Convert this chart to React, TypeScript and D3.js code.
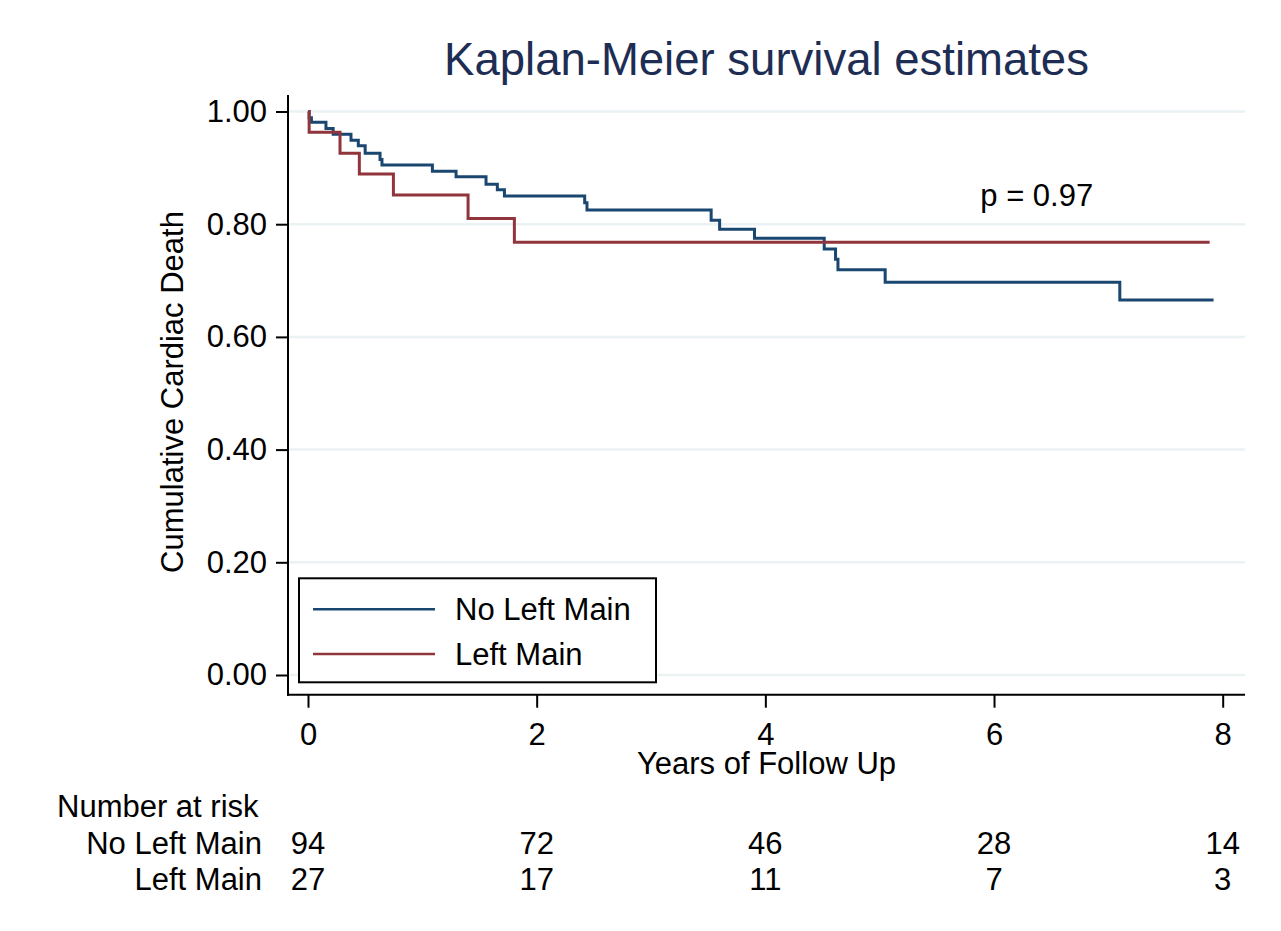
import { useEffect, useRef } from "react"
import * as d3 from "d3"

// Kaplan-Meier step points (years, survival)
const noLeftMainTimes = [0, 0.01, 0.03, 0.157, 0.22, 0.376, 0.44, 0.5, 0.63, 0.647, 1.088, 1.295, 1.557, 1.656, 1.718, 2.42, 2.44, 3.526, 3.6, 3.905, 4.515, 4.614, 4.635, 5.048, 7.1, 7.92]
const noLeftMainSurv = [1.0, 0.989, 0.981, 0.97, 0.9595, 0.949, 0.939, 0.926, 0.915, 0.905, 0.894, 0.884, 0.871, 0.861, 0.85, 0.838, 0.825, 0.807, 0.791, 0.775, 0.756, 0.738, 0.719, 0.697, 0.6655, 0.6655]

const leftMainTimes = [0, 0.01, 0.28, 0.449, 0.747, 1.4, 1.805, 7.886]
const leftMainSurv = [1.0, 0.963, 0.926, 0.889, 0.852, 0.81, 0.768, 0.768]

const groupNames = ["No Left Main", "Left Main"]
const groupColors = ["#1a476f", "#90353b"]

const xTicks = [0, 2, 4, 6, 8]
const yTicks = [0, 0.2, 0.4, 0.6, 0.8, 1.0]

const riskNoLeftMain = [94, 72, 46, 28, 14]
const riskLeftMain = [27, 17, 11, 7, 3]

const pLabel = "p = 0.97"

export default function App() {
  const svgRef = useRef<SVGSVGElement>(null)

  useEffect(() => {
    if (!svgRef.current) return
    const width = 1281
    const height = 931
    const font = "Liberation Sans, Arial, sans-serif"
    const fs = 31

    d3.select(svgRef.current).selectAll("*").remove()
    const svg = d3.select(svgRef.current).attr("width", width).attr("height", height)

    svg.append("rect").attr("width", width).attr("height", height).attr("fill", "#fff")

    const plot = { left: 288, right: 1245, top: 95, bottom: 694.7 }
    const x = d3.scaleLinear().domain([0, 8]).range([308, 1222.7])
    const y = d3.scaleLinear().domain([0, 1]).range([675, 111.5])

    // gridlines
    svg.append("g")
      .selectAll("line")
      .data(yTicks)
      .enter()
      .append("line")
      .attr("x1", plot.left)
      .attr("x2", plot.right)
      .attr("y1", (d) => y(d))
      .attr("y2", (d) => y(d))
      .attr("stroke", "#eaf2f3")
      .attr("stroke-width", 2.5)

    // title
    svg.append("text")
      .attr("x", (plot.left + plot.right) / 2)
      .attr("y", 75)
      .attr("text-anchor", "middle")
      .attr("font-family", font)
      .attr("font-size", 45.5)
      .attr("fill", "#1e2d53")
      .text("Kaplan-Meier survival estimates")

    // y axis
    const yAxis = svg.append("g")
      .attr("transform", `translate(${plot.left},0)`)
      .call(d3.axisLeft(y).tickValues(yTicks).tickSize(12).tickPadding(9).tickFormat(d3.format(".2f")))
    yAxis.select(".domain").remove()
    yAxis.selectAll("line").attr("stroke", "#000").attr("stroke-width", 2)
    yAxis.selectAll("text").attr("font-family", font).attr("font-size", fs).attr("fill", "#000")

    svg.append("line")
      .attr("x1", plot.left).attr("x2", plot.left)
      .attr("y1", plot.top).attr("y2", plot.bottom + 1)
      .attr("stroke", "#000").attr("stroke-width", 2)

    svg.append("text")
      .attr("transform", `translate(183,392) rotate(-90)`)
      .attr("text-anchor", "middle")
      .attr("font-family", font)
      .attr("font-size", fs)
      .attr("fill", "#000")
      .text("Cumulative Cardiac Death")

    // x axis
    const xAxis = svg.append("g")
      .attr("transform", `translate(0,${plot.bottom})`)
      .call(d3.axisBottom(x).tickValues(xTicks).tickSize(13).tickPadding(15).tickFormat(d3.format("d")))
    xAxis.select(".domain").remove()
    xAxis.selectAll("line").attr("stroke", "#000").attr("stroke-width", 2)
    xAxis.selectAll("text").attr("font-family", font).attr("font-size", fs).attr("fill", "#000")

    svg.append("line")
      .attr("x1", plot.left - 1).attr("x2", plot.right)
      .attr("y1", plot.bottom).attr("y2", plot.bottom)
      .attr("stroke", "#000").attr("stroke-width", 2)

    svg.append("text")
      .attr("x", (plot.left + plot.right) / 2)
      .attr("y", 774)
      .attr("text-anchor", "middle")
      .attr("font-family", font)
      .attr("font-size", fs)
      .attr("fill", "#000")
      .text("Years of Follow Up")

    // survival curves
    const series = [
      { times: noLeftMainTimes, surv: noLeftMainSurv },
      { times: leftMainTimes, surv: leftMainSurv },
    ]
    const line = d3.line<[number, number]>()
      .x((d) => x(d[0]))
      .y((d) => y(d[1]))
      .curve(d3.curveStepAfter)

    series.forEach((s, i) => {
      const pts = s.times.map((t, j) => [t, s.surv[j]] as [number, number])
      svg.append("path")
        .attr("d", line(pts))
        .attr("fill", "none")
        .attr("stroke", groupColors[i])
        .attr("stroke-width", 3)
    })

    // p value
    svg.append("text")
      .attr("x", x(5.88))
      .attr("y", y(0.832))
      .attr("font-family", font)
      .attr("font-size", fs)
      .attr("fill", "#000")
      .text(pLabel)

    // legend
    const legend = svg.append("g")
    legend.append("rect")
      .attr("x", 299).attr("y", 578.3)
      .attr("width", 357).attr("height", 104)
      .attr("fill", "#fff")
      .attr("stroke", "#000")
      .attr("stroke-width", 2)
    groupNames.forEach((name, i) => {
      const ly = 609.3 + i * 44.7
      legend.append("line")
        .attr("x1", 313).attr("x2", 435)
        .attr("y1", ly).attr("y2", ly)
        .attr("stroke", groupColors[i])
        .attr("stroke-width", 2.5)
      legend.append("text")
        .attr("x", 455)
        .attr("y", ly + 11)
        .attr("font-family", font)
        .attr("font-size", fs)
        .attr("fill", "#000")
        .text(name)
    })

    // number at risk table
    svg.append("text")
      .attr("x", 57)
      .attr("y", 817)
      .attr("font-family", font)
      .attr("font-size", fs)
      .attr("fill", "#000")
      .text("Number at risk")

    const rows = [riskNoLeftMain, riskLeftMain]
    rows.forEach((vals, i) => {
      const ry = 854 + i * 36
      svg.append("text")
        .attr("x", 262)
        .attr("y", ry)
        .attr("text-anchor", "end")
        .attr("font-family", font)
        .attr("font-size", fs)
        .attr("fill", "#000")
        .text(groupNames[i])
      svg.append("g")
        .selectAll("text")
        .data(vals)
        .enter()
        .append("text")
        .attr("x", (_d, j) => x(xTicks[j]))
        .attr("y", ry)
        .attr("text-anchor", "middle")
        .attr("font-family", font)
        .attr("font-size", fs)
        .attr("fill", "#000")
        .text((d) => String(d))
    })
  }, [])

  return (
    <div style={{ position: "absolute", left: 0, top: 0 }}>
      <svg ref={svgRef} style={{ display: "block" }} />
    </div>
  )
}
